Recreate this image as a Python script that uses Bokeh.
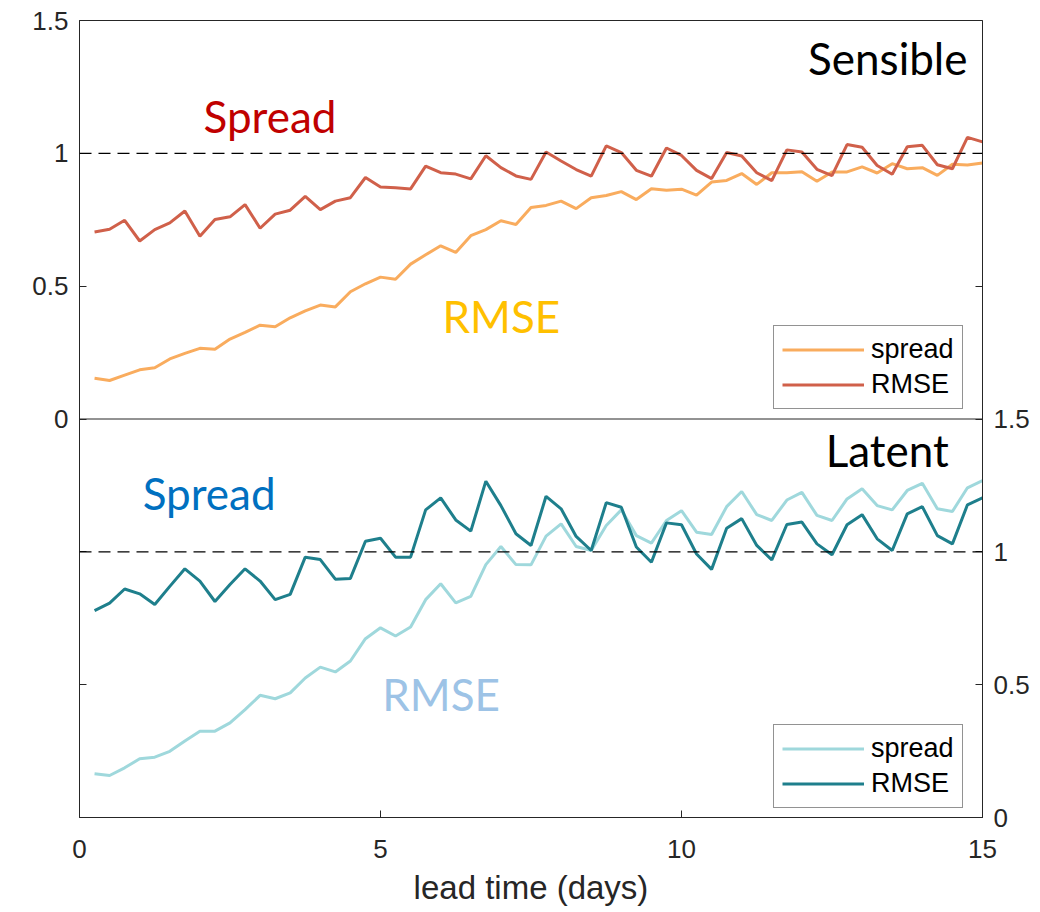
from bokeh.plotting import figure
from bokeh.models import (Range1d, LinearAxis, FixedTicker, Span, Legend,
                          LegendItem, Label, ColumnDataSource)
from bokeh.embed import file_html
from bokeh.resources import INLINE

# lead time in days (6-hourly steps)
lead_days = [0.25 * k for k in range(1, 61)]

sensible_spread = [
    0.153, 0.145, 0.165, 0.185, 0.193, 0.226, 0.247, 0.266, 0.263, 0.301,
    0.326, 0.353, 0.347, 0.381, 0.407, 0.429, 0.422, 0.479, 0.509, 0.534,
    0.526, 0.583, 0.618, 0.652, 0.627, 0.690, 0.713, 0.746, 0.732, 0.796,
    0.804, 0.820, 0.792, 0.833, 0.841, 0.856, 0.826, 0.867, 0.861, 0.865,
    0.843, 0.892, 0.898, 0.924, 0.883, 0.927, 0.927, 0.931, 0.895, 0.930,
    0.930, 0.949, 0.926, 0.961, 0.942, 0.946, 0.917, 0.959, 0.956, 0.964,
]
sensible_rmse = [
    0.704, 0.714, 0.748, 0.670, 0.713, 0.738, 0.783, 0.688, 0.751, 0.761,
    0.807, 0.718, 0.771, 0.786, 0.838, 0.788, 0.820, 0.833, 0.909, 0.873,
    0.870, 0.866, 0.952, 0.927, 0.922, 0.904, 0.991, 0.946, 0.915, 0.902,
    1.005, 0.971, 0.939, 0.914, 1.028, 1.003, 0.936, 0.914, 1.020, 0.992,
    0.936, 0.905, 1.003, 0.990, 0.927, 0.897, 1.013, 1.005, 0.940, 0.916,
    1.033, 1.023, 0.954, 0.921, 1.025, 1.030, 0.957, 0.942, 1.060, 1.043,
]
latent_spread = [
    0.165, 0.158, 0.187, 0.221, 0.227, 0.249, 0.288, 0.325, 0.325, 0.356,
    0.406, 0.460, 0.447, 0.469, 0.525, 0.566, 0.548, 0.589, 0.673, 0.714,
    0.683, 0.717, 0.820, 0.880, 0.808, 0.832, 0.952, 1.020, 0.952, 0.951,
    1.059, 1.105, 1.020, 1.005, 1.099, 1.158, 1.061, 1.033, 1.118, 1.155,
    1.074, 1.065, 1.170, 1.227, 1.140, 1.118, 1.195, 1.224, 1.137, 1.118,
    1.199, 1.237, 1.174, 1.158, 1.231, 1.258, 1.162, 1.152, 1.241, 1.268,
]
latent_rmse = [
    0.779, 0.807, 0.860, 0.842, 0.802, 0.870, 0.936, 0.890, 0.813, 0.877,
    0.936, 0.890, 0.820, 0.840, 0.980, 0.971, 0.897, 0.900, 1.040, 1.051,
    0.980, 0.980, 1.158, 1.203, 1.120, 1.078, 1.266, 1.174, 1.068, 1.024,
    1.209, 1.162, 1.058, 1.005, 1.185, 1.168, 1.018, 0.961, 1.109, 1.102,
    0.992, 0.934, 1.089, 1.125, 1.024, 0.970, 1.103, 1.112, 1.030, 0.989,
    1.102, 1.140, 1.049, 1.005, 1.143, 1.170, 1.061, 1.030, 1.177, 1.203,
]

x_ticks = [0, 5, 10, 15]
y_ticks = [0, 0.5, 1, 1.5]
panel_span = 1.5  # height of one panel in y units

AX = "#262626"
TICK_FONT = "Liberation Sans"

p = figure(width=1040, height=912, output_backend="svg", toolbar_location=None,
           x_range=Range1d(0, 15), y_range=Range1d(-panel_span, panel_span),
           min_border_left=79, min_border_right=58, min_border_top=20,
           min_border_bottom=95)
p.extra_y_ranges = {"bot": Range1d(0, 2 * panel_span)}
p.grid.visible = False
p.outline_line_color = AX
p.outline_line_width = 1
p.background_fill_color = "white"
p.border_fill_color = "white"

def style_axis(ax):
    ax.axis_line_color = AX
    ax.major_tick_line_color = AX
    ax.major_tick_in = 7
    ax.major_tick_out = 0
    ax.minor_tick_line_color = None
    ax.major_label_text_color = AX
    ax.major_label_text_font = TICK_FONT
    ax.major_label_text_font_size = "26px"
    ax.major_label_standoff = 11

# x axis
xa = p.below[0]
style_axis(xa)
xa.ticker = FixedTicker(ticks=x_ticks)
xa.major_label_standoff = 22
xa.axis_label = "lead time (days)"
xa.axis_label_text_font = TICK_FONT
xa.axis_label_text_font_style = "normal"
xa.axis_label_text_font_size = "33px"
xa.axis_label_text_color = AX
xa.axis_label_standoff = 8

# left axis: labels for the upper panel, plain ticks for the lower one
ya = p.left[0]
style_axis(ya)
left_mirror = [t - panel_span for t in y_ticks if 0 < t < panel_span]
ya.ticker = FixedTicker(ticks=y_ticks + left_mirror)
ya.major_label_overrides = {t: "" for t in left_mirror}

# right axis: labels for the lower panel, plain ticks for the upper one
right_mirror = [t + panel_span for t in y_ticks if 0 < t < panel_span]
yr = LinearAxis(y_range_name="bot", ticker=FixedTicker(ticks=y_ticks + right_mirror))
style_axis(yr)
yr.major_label_overrides = {t: "" for t in right_mirror}
p.add_layout(yr, "right")

# divider between the two panels
p.add_layout(Span(location=0, dimension="width", line_color=AX, line_width=1))

# reference lines at ratio 1
p.add_layout(Span(location=1, dimension="width", line_color="black",
                  line_width=1.3, line_dash="12 7"))
p.add_layout(Span(location=1, dimension="width", line_color="black",
                  line_width=1.3, line_dash="12 7", y_range_name="bot"))

src = ColumnDataSource(dict(x=lead_days, ss=sensible_spread, sr=sensible_rmse,
                            ls=latent_spread, lr=latent_rmse))

C_SS, C_SR = "#F9AC5E", "#D0604A"
C_LS, C_LR = "#9FD8DC", "#1E7F8C"

r_ss = p.line("x", "ss", source=src, line_color=C_SS, line_width=3)
r_sr = p.line("x", "sr", source=src, line_color=C_SR, line_width=3)
r_ls = p.line("x", "ls", source=src, line_color=C_LS, line_width=3, y_range_name="bot")
r_lr = p.line("x", "lr", source=src, line_color=C_LR, line_width=3, y_range_name="bot")

def make_legend(items, loc):
    lg = Legend(items=items, location=loc, orientation="vertical",
                border_line_color=AX, border_line_width=1,
                background_fill_color="white", background_fill_alpha=1,
                label_text_font=TICK_FONT, label_text_font_size="27px",
                label_text_color="black", glyph_width=82, glyph_height=29,
                label_height=29, label_standoff=7, spacing=4, padding=8,
                margin=0)
    return lg

p.add_layout(make_legend([LegendItem(label="spread", renderers=[r_ss]),
                          LegendItem(label="RMSE", renderers=[r_sr])], (694, 408)))
p.add_layout(make_legend([LegendItem(label="spread", renderers=[r_ls]),
                          LegendItem(label="RMSE", renderers=[r_lr])], (694, 9)))

TITLE_FONT = "Lato"

def label(txt, x, y, color, align="left", rng="default"):
    p.add_layout(Label(x=x, y=y, text=txt, text_color=color, text_font=TITLE_FONT,
                       text_font_size="44px", text_align=align,
                       text_baseline="alphabetic", y_range_name=rng))

label("Sensible", 14.75, 1.357, "black", align="right")
label("Spread", 2.06, 1.141, "#C00000")
label("RMSE", 6.03, 0.387, "#FFC000")
label("Latent", 14.44, 1.385, "black", align="right", rng="bot")
label("Spread", 1.05, 1.222, "#0070C0", rng="bot")
label("RMSE", 5.03, 0.465, "#9DC3E6", rng="bot")

open("out.html", "w").write(file_html(p, INLINE))
